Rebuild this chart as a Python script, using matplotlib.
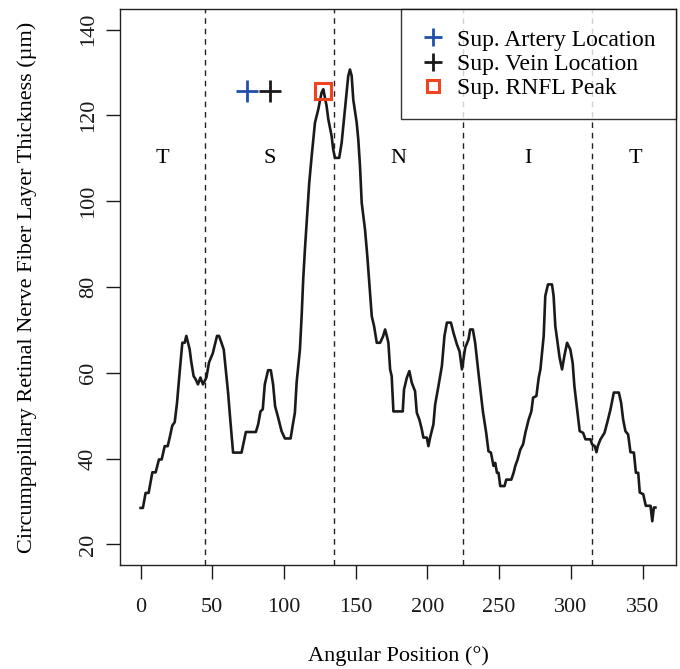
import numpy as np
import matplotlib
matplotlib.use("Agg")
import matplotlib.pyplot as plt

plt.rcParams['font.family'] = ['Liberation Serif', 'DejaVu Serif']

# traced RNFL thickness profile (angle in degrees, thickness in µm)
angle = [0, 1.6, 3.5, 5.6, 8.2, 10.5, 12.8, 14.7, 16.8, 18.9, 20.3, 22.1, 23.8,
         25.4, 27.2, 29.1, 30.7, 31.9, 34.2, 35.4, 37.0, 38.4, 40.0, 41.7, 43.5,
         45.9, 47.7, 50.3, 53.3, 54.7, 56.4, 58.0, 59.4, 61.0, 62.7, 64.5, 70.4,
         73.4, 80.4, 82.0, 83.6, 85.2, 86.6, 88.9, 90.8, 92.4, 93.8, 95.9, 98.3,
         100.6, 104.6, 106.0, 107.6, 108.8, 111.1, 112.3, 113.4, 114.6, 115.8,
         117.6, 119.3, 121.6, 123.9, 126.2, 127.4, 129.7, 130.9, 133.2, 134.3,
         135.5, 138.5, 140.2, 142.5, 144.8, 146.0, 147.2, 148.3, 150.7, 151.8,
         153.0, 154.2, 156.5, 158.1, 159.5, 161.2, 162.8, 164.7, 167.0, 169.1,
         170.5, 171.7, 172.8, 174.0, 175.1, 176.3, 182.8, 183.7, 185.6, 187.4,
         189.1, 191.4, 192.6, 194.4, 196.1, 197.2, 199.6, 200.7, 201.9, 204.2,
         205.4, 207.7, 210.1, 211.9, 213.6, 216.4, 218.2, 220.6, 222.4, 224.1,
         226.4, 228.7, 229.8, 231.7, 233.3, 235.6, 238.7, 241.0, 242.6, 244.3,
         246.1, 247.3, 248.5, 249.6, 250.8, 253.8, 255.0, 258.5, 260.1, 261.3,
         262.9, 264.8, 266.7, 268.3, 270.6, 272.5, 273.7, 276.0, 277.6, 278.8,
         281.1, 282.2, 284.1, 286.9, 288.0, 289.2, 290.8, 292.2, 293.9, 295.5,
         297.4, 299.7, 301.3, 302.5, 304.4, 306.2, 308.6, 310.2, 313.7, 314.9,
         316.7, 317.9, 318.8, 320.7, 323.5, 325.4, 327.7, 330.0, 333.5, 335.1,
         336.5, 338.1, 340.0, 341.6, 344.0, 345.4, 347.0, 348.1, 350.5, 352.3,
         355.6, 356.8, 357.9, 359.0]
thickness = [28.5, 28.5, 32.0, 32.0, 36.8, 36.8, 39.8, 39.8, 42.9, 42.9, 44.9,
             47.7, 48.5, 53.0, 60.0, 67.0, 67.0, 68.6, 65.5, 62.4, 59.2, 58.5,
             57.3, 58.9, 57.3, 58.9, 62.4, 64.5, 68.6, 68.6, 67.0, 65.4, 60.8,
             55.4, 48.4, 41.4, 41.4, 46.2, 46.2, 48.0, 51.0, 51.5, 57.3, 60.6,
             60.6, 57.3, 52.2, 49.6, 46.4, 44.7, 44.7, 47.6, 50.7, 57.7, 65.4,
             73.2, 81.8, 88.8, 95.0, 104.3, 110.5, 118.3, 121.4, 125.3, 126.1,
             122.2, 119.1, 115.2, 112.1, 110.1, 110.1, 113.6, 121.4, 129.2,
             130.7, 129.2, 123.7, 118.3, 114.4, 108.2, 99.6, 93.4, 87.2, 81.0,
             73.2, 70.9, 67.0, 67.0, 68.5, 70.1, 68.6, 67.0, 60.8, 59.2, 51.0,
             51.0, 56.1, 58.8, 60.4, 57.7, 55.7, 50.7, 49.1, 46.8, 44.9, 44.9,
             42.9, 44.9, 48.0, 52.6, 56.9, 61.6, 68.6, 71.7, 71.7, 69.3, 66.6,
             65.0, 60.8, 65.9, 67.8, 70.1, 70.1, 67.0, 60.0, 51.0, 46.0, 41.7,
             41.4, 38.3, 39.0, 36.7, 36.7, 33.6, 33.6, 35.1, 35.1, 36.7, 38.3,
             39.8, 42.1, 43.3, 46.0, 49.1, 51.0, 54.2, 54.6, 58.8, 60.8, 68.6,
             77.9, 80.6, 80.6, 77.9, 70.9, 67.0, 63.5, 60.8, 63.9, 67.0, 65.4,
             62.3, 56.9, 51.5, 46.4, 46.0, 44.5, 44.5, 43.3, 42.9, 41.5, 42.9,
             44.5, 46.0, 48.4, 51.5, 55.4, 55.4, 53.0, 49.1, 46.4, 45.6, 41.5,
             41.4, 36.7, 36.7, 32.1, 31.7, 29.0, 29.0, 25.4, 28.6, 28.6]

sector_bounds = [45, 135, 225, 315]
sector_names = ['T', 'S', 'N', 'I', 'T']
sector_pos = [15, 90, 180, 270, 345]
sector_y = 110

artery_angle, vein_angle, peak_angle = 74.5, 90, 127.4
marker_y = 125.7

fig = plt.figure(figsize=(6.8, 6.69), dpi=100)
ax = fig.add_axes([120/680, 104/669, 556/680, 556/669])

ax.plot(angle, thickness, color='#1a1a1a', lw=1.9, zorder=3)
for b in sector_bounds:
    ax.axvline(b, color='#222222', lw=1, ls=(0, (4, 3.5)), zorder=1)
for name, p in zip(sector_names, sector_pos):
    ax.text(p, sector_y, name, ha='center', va='center', fontsize=16)

ax.plot(artery_angle, marker_y, '+', color='#1f4fa8', ms=16, mew=2,
        ls='none', label='Sup. Artery Location', zorder=4)
ax.plot(vein_angle, marker_y, '+', color='#1a1a1a', ms=16, mew=2,
        ls='none', label='Sup. Vein Location', zorder=4)
ax.plot(peak_angle, marker_y, 's', mfc='none', mec='#ee4422', ms=11, mew=2.2,
        ls='none', label='Sup. RNFL Peak', zorder=4)

leg = ax.legend(loc='upper right', fontsize=17, frameon=True, fancybox=False,
                borderaxespad=0, handlelength=1.0, handletextpad=0.55,
                labelspacing=0.12, borderpad=0.85, markerscale=0.8)
leg.get_frame().set_edgecolor('black')
leg.get_frame().set_linewidth(1)

ax.set_xlim(-14.36, 373.36)
ax.set_ylim(15.2, 144.8)
ax.set_xticks(np.arange(0, 351, 50))
ax.set_yticks(np.arange(20, 141, 20))
ax.tick_params(axis='both', direction='out', length=10, width=1,
               labelsize=16, colors='#1a1a1a')
ax.tick_params(axis='x', pad=14)
ax.tick_params(axis='y', pad=6)
for lab in ax.get_yticklabels():
    lab.set_rotation(90)
    lab.set_va('center')
for s in ax.spines.values():
    s.set_linewidth(1)
    s.set_color('#222222')

ax.set_xlabel('Angular Position (°)', fontsize=16, labelpad=21)
ax.set_ylabel('Circumpapillary Retinal Nerve Fiber Layer Thickness (µm)',
              fontsize=16, labelpad=30)

fig.savefig('out.png', dpi=100)
